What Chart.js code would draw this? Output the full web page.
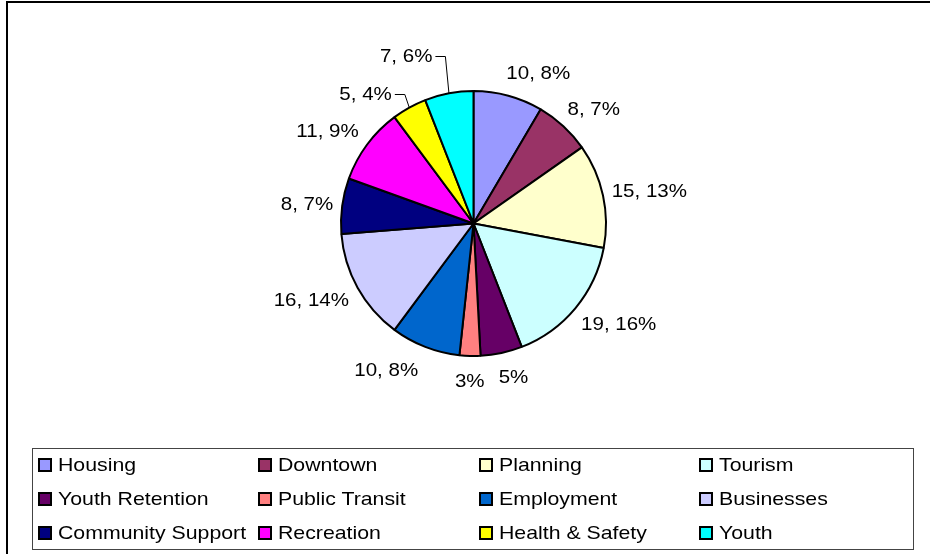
<!DOCTYPE html>
<html><head><meta charset="utf-8">
<script src="https://cdn.jsdelivr.net/npm/chart.js@4.4.0/dist/chart.umd.min.js"></script>
<style>
html,body{margin:0;padding:0;background:#fff;overflow:hidden;width:930px;height:554px;position:relative;}
#frame{position:absolute;left:6px;top:1px;width:1000px;height:700px;border:2px solid #000;box-sizing:border-box;}
#c{position:absolute;left:0;top:0;}
#legend{position:absolute;left:32px;top:448px;width:882px;height:102px;border:1px solid #444;box-sizing:border-box;font-family:"Liberation Sans",Arial,sans-serif;font-size:19px;color:#000;}
.item{position:absolute;height:14px;display:flex;align-items:center;white-space:nowrap;}
.sw{width:10px;height:10px;border:2px solid #000;flex:none;}
.txt{display:inline-block;transform:scaleX(1.12);transform-origin:left center;margin-left:6px;line-height:20px;}
</style>
</head><body>
<div id="frame"></div>
<canvas id="c" width="930" height="554"></canvas>
<div id="legend"></div>
<script>
// ---- data ----
const categories = ["Housing","Downtown","Planning","Tourism","Youth Retention","Public Transit","Employment","Businesses","Community Support","Recreation","Health & Safety","Youth"];
const values = [10, 8, 15, 19, 6, 3, 10, 16, 8, 11, 5, 7];
const labelShowsValue = [true,true,true,true,false,false,true,true,true,true,true,true];

// ---- styles ----
const colors = ["#9999FF","#993366","#FFFFCC","#CCFFFF","#660066","#FF8080","#0066CC","#CCCCFF","#000080","#FF00FF","#FFFF00","#00FFFF"];
const labelNudge = [[0,0],[0,0],[0,0],[0,0],[0,0],[0,0],[0,0],[0,0],[0,0],[0,0],[-10,7],[-10,-15]];
const LABEL_GAP = 9, SX = 1.08, CAP = 13.6, VOFF = 15, HOFF = 6;
const FONT = '19px "Liberation Sans", Arial, sans-serif';

// legend (HTML)
const leg = document.getElementById('legend');
categories.forEach((name,i)=>{
  const row = Math.floor(i/4), col = i%4;
  const it = document.createElement('div');
  it.className='item';
  it.style.left = (5 + col*220.3) + 'px';
  it.style.top = (9 + row*34) + 'px';
  const sw = document.createElement('span'); sw.className='sw'; sw.style.background = colors[i];
  const tx = document.createElement('span'); tx.className='txt'; tx.textContent = name;
  it.appendChild(sw); it.appendChild(tx); leg.appendChild(it);
});

const labelPlugin = {
  id:'outLabels',
  afterDatasetsDraw(chart){
    const ctx = chart.ctx;
    const meta = chart.getDatasetMeta(0);
    const total = values.reduce((a,b)=>a+b,0);
    ctx.save();
    ctx.font = FONT;
    ctx.fillStyle = '#000';
    ctx.strokeStyle = '#000';
    ctx.lineWidth = 1;
    ctx.textBaseline = 'alphabetic';
    meta.data.forEach((arc,i)=>{
      const p = arc.getProps(['x','y','startAngle','endAngle','outerRadius'], true);
      const mid = (p.startAngle + p.endAngle)/2;
      const dx = Math.cos(mid), dy = Math.sin(mid);
      const R = p.outerRadius + LABEL_GAP;
      const px = p.x + R*dx, py = p.y + R*dy;
      const pct = Math.round(values[i]/total*100);
      const text = labelShowsValue[i] ? `${values[i]}, ${pct}%` : `${pct}%`;
      const w = ctx.measureText(text).width * SX;
      let left;
      if (Math.abs(dx) < 0.1) left = px - w/2;
      else if (dx > 0) left = px - (1-Math.abs(dx))*HOFF;
      else left = px - w - (1-Math.abs(dx))*HOFF;
      let base = py + dy*VOFF + CAP/2;
      const n = labelNudge[i];
      left += n[0]; base += n[1];
      ctx.save();
      ctx.translate(left, base);
      ctx.scale(SX, 1);
      ctx.textAlign = 'left';
      ctx.fillText(text, 0, 0);
      ctx.restore();
      if (n[0] !== 0 || n[1] !== 0) {
        const ex = p.x + p.outerRadius*dx, ey = p.y + p.outerRadius*dy;
        const ly = Math.round(base - 6) + 0.5;
        ctx.beginPath();
        ctx.moveTo(left + w + 3, ly);
        ctx.lineTo(left + w + 13, ly);
        ctx.lineTo(ex, ey);
        ctx.stroke();
      }
    });
    ctx.restore();
  }
};

new Chart(document.getElementById('c'), {
  type:'pie',
  data:{labels:categories, datasets:[{data:values, backgroundColor:colors, borderColor:'#000', borderWidth:2}]},
  options:{
    responsive:false, animation:false, devicePixelRatio:1,
    radius:132.5,
    layout:{padding:{left:17,right:0,top:0,bottom:107}},
    plugins:{legend:{display:false}, tooltip:{enabled:false}}
  },
  plugins:[labelPlugin]
});
</script>
</body></html>
